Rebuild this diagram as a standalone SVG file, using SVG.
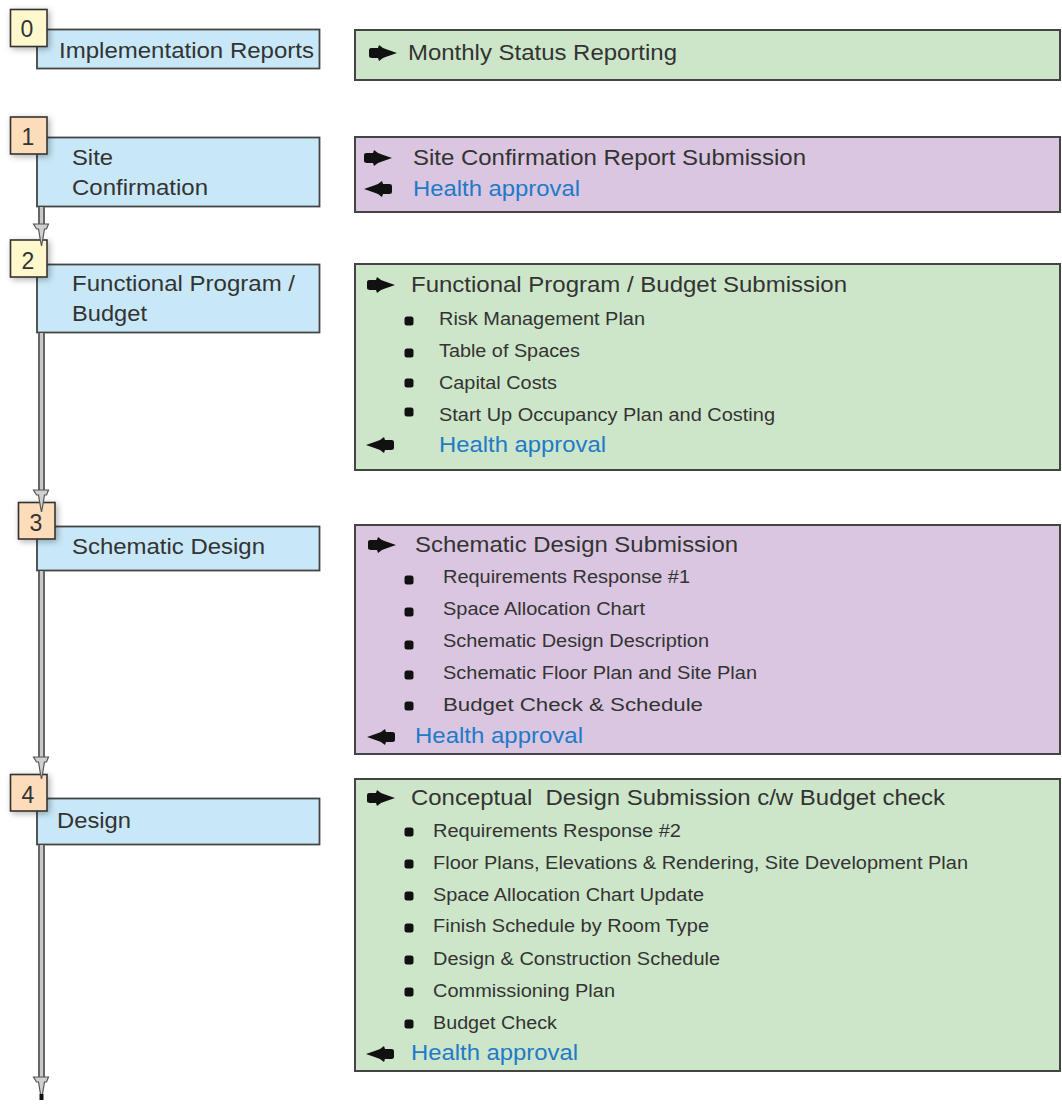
<svg xmlns="http://www.w3.org/2000/svg" width="1062" height="1105" viewBox="0 0 1062 1105">
<style>
text{font-family:"Liberation Sans",Arial,sans-serif;fill:#333}
.stage{fill:#c8e8f8;stroke:#444;stroke-width:1.8}
.badgeY{fill:#fff8cc;stroke:#333;stroke-width:1.6}
.badgeP{fill:#fddcba;stroke:#333;stroke-width:1.6}
.green{fill:#cde6c9;stroke:#444;stroke-width:2}
.purple{fill:#dac6e0;stroke:#444;stroke-width:2}
.lbl{font-size:22px}
.num{font-size:23px;text-anchor:middle}
.head{font-size:22px}
.item{font-size:17.5px}
.appr{font-size:22px;fill:#1f7ac8}
.lineO{stroke:#666;stroke-width:7;fill:none}
.lineI{stroke:#c8c8c8;stroke-width:3;fill:none}
.ahead{fill:#d0d0d0;stroke:#555;stroke-width:1.2}
</style>
<defs>
<filter id="sh" x="-50%" y="-50%" width="200%" height="200%">
<feDropShadow dx="2" dy="2" stdDeviation="3" flood-color="#000" flood-opacity="0.3"/>
</filter>
<path id="ar" d="M-14,-2.5 C-14,-5 -12,-5 -10,-5 L-5,-5 L-4,-8 L0,-5 L4,-3.5 L14,0 L4,3.5 L0,5 L-4,8 L-5,5 L-10,5 C-12,5 -14,5 -14,2.5 Z" fill="#111"/>
<path id="al" d="M14,-2.5 C14,-5 12,-5 10,-5 L5,-5 L4,-8 L0,-5 L-4,-3.5 L-14,0 L-4,3.5 L0,5 L4,8 L5,5 L10,5 C12,5 14,5 14,2.5 Z" fill="#111"/>
<rect id="bu" x="-4.5" y="-4.5" width="9" height="9" rx="2.5" fill="#111"/>
<path id="ah" d="M-8,0 L7,0 L5,5 L3,5 L1,17 L0,22 L-1,17 L-3,5 L-5,5 Z"/>
</defs>

<g id="stage0">
<rect class="stage" x="37" y="29.5" width="282.5" height="39"/>
<rect class="badgeY" x="10.5" y="9.5" width="36.5" height="37" filter="url(#sh)"/>
<text class="num" x="27" y="37">0</text>
<text class="lbl" x="59" y="58" textLength="255" lengthAdjust="spacingAndGlyphs">Implementation Reports</text>
</g>
<g id="stage1">
<rect class="stage" x="37" y="137.5" width="282.5" height="69"/>
<rect class="badgeP" x="10.5" y="117" width="36.5" height="37" filter="url(#sh)"/>
<text class="num" x="28" y="145">1</text>
<text class="lbl" x="72" y="165" textLength="41" lengthAdjust="spacingAndGlyphs">Site</text>
<text class="lbl" x="72" y="195" textLength="136" lengthAdjust="spacingAndGlyphs">Confirmation</text>
</g>
<g id="stage2">
<rect class="stage" x="37" y="264.5" width="282.5" height="68"/>
<rect class="badgeY" x="10.5" y="240" width="36.5" height="37" filter="url(#sh)"/>
<text class="num" x="28" y="269">2</text>
<text class="lbl" x="72" y="291" textLength="223" lengthAdjust="spacingAndGlyphs">Functional Program /</text>
<text class="lbl" x="72" y="321" textLength="75" lengthAdjust="spacingAndGlyphs">Budget</text>
</g>
<g id="stage3">
<rect class="stage" x="37" y="526.5" width="282.5" height="44"/>
<rect class="badgeP" x="18.5" y="502.5" width="36.5" height="36.5" filter="url(#sh)"/>
<text class="num" x="36" y="531">3</text>
<text class="lbl" x="72" y="554" textLength="193" lengthAdjust="spacingAndGlyphs">Schematic Design</text>
</g>
<g id="stage4">
<rect class="stage" x="37" y="798.5" width="282.5" height="46"/>
<rect class="badgeP" x="10.5" y="774.5" width="36.5" height="36.5" filter="url(#sh)"/>
<text class="num" x="28" y="803">4</text>
<text class="lbl" x="57" y="828" textLength="74" lengthAdjust="spacingAndGlyphs">Design</text>
</g>

<g id="deliv0">
<rect class="green" x="355" y="30" width="705" height="50"/>
<use href="#ar" x="383" y="53"/>
<text class="head" x="408" y="60" textLength="269" lengthAdjust="spacingAndGlyphs">Monthly Status Reporting</text>
</g>
<g id="deliv1">
<rect class="purple" x="355" y="137" width="705" height="75"/>
<use href="#ar" x="378" y="158"/>
<text class="head" x="413" y="165" textLength="393" lengthAdjust="spacingAndGlyphs">Site Confirmation Report Submission</text>
<use href="#al" x="378" y="189"/>
<text class="appr" x="413" y="196" textLength="167" lengthAdjust="spacingAndGlyphs">Health approval</text>
</g>
<g id="deliv2">
<rect class="green" x="355" y="264" width="705" height="206"/>
<use href="#ar" x="381" y="285"/>
<text class="head" x="411" y="292" textLength="436" lengthAdjust="spacingAndGlyphs">Functional Program / Budget Submission</text>
<use href="#bu" x="409" y="321"/>
<text class="item" x="439" y="325" textLength="206" lengthAdjust="spacingAndGlyphs">Risk Management Plan</text>
<use href="#bu" x="409" y="353"/>
<text class="item" x="439" y="357" textLength="141" lengthAdjust="spacingAndGlyphs">Table of Spaces</text>
<use href="#bu" x="409" y="383"/>
<text class="item" x="439" y="389" textLength="118" lengthAdjust="spacingAndGlyphs">Capital Costs</text>
<use href="#bu" x="409" y="412"/>
<text class="item" x="439" y="421" textLength="336" lengthAdjust="spacingAndGlyphs">Start Up Occupancy Plan and Costing</text>
<use href="#al" x="380" y="445"/>
<text class="appr" x="439" y="452" textLength="167" lengthAdjust="spacingAndGlyphs">Health approval</text>
</g>
<g id="deliv3">
<rect class="purple" x="355" y="525" width="705" height="229"/>
<use href="#ar" x="382" y="545"/>
<text class="head" x="415" y="552" textLength="323" lengthAdjust="spacingAndGlyphs">Schematic Design Submission</text>
<use href="#bu" x="409" y="580"/>
<text class="item" x="443" y="583" textLength="247" lengthAdjust="spacingAndGlyphs">Requirements Response #1</text>
<use href="#bu" x="409" y="612"/>
<text class="item" x="443" y="615" textLength="202" lengthAdjust="spacingAndGlyphs">Space Allocation Chart</text>
<use href="#bu" x="409" y="645"/>
<text class="item" x="443" y="647" textLength="266" lengthAdjust="spacingAndGlyphs">Schematic Design Description</text>
<use href="#bu" x="409" y="675"/>
<text class="item" x="443" y="679" textLength="314" lengthAdjust="spacingAndGlyphs">Schematic Floor Plan and Site Plan</text>
<use href="#bu" x="409" y="706"/>
<text class="item" x="443" y="711" textLength="260" lengthAdjust="spacingAndGlyphs">Budget Check &amp; Schedule</text>
<use href="#al" x="381" y="737"/>
<text class="appr" x="415" y="743" textLength="168" lengthAdjust="spacingAndGlyphs">Health approval</text>
</g>
<g id="deliv4">
<rect class="green" x="355" y="779" width="705" height="292"/>
<use href="#ar" x="381" y="798"/>
<text class="head" x="411" y="805" xml:space="preserve" textLength="534" lengthAdjust="spacingAndGlyphs">Conceptual  Design Submission c/w Budget check</text>
<use href="#bu" x="409" y="832"/>
<text class="item" x="433" y="837" textLength="248" lengthAdjust="spacingAndGlyphs">Requirements Response #2</text>
<use href="#bu" x="409" y="864"/>
<text class="item" x="433" y="869" textLength="535" lengthAdjust="spacingAndGlyphs">Floor Plans, Elevations &amp; Rendering, Site Development Plan</text>
<use href="#bu" x="409" y="896"/>
<text class="item" x="433" y="901" textLength="271" lengthAdjust="spacingAndGlyphs">Space Allocation Chart Update</text>
<use href="#bu" x="409" y="928"/>
<text class="item" x="433" y="932" textLength="276" lengthAdjust="spacingAndGlyphs">Finish Schedule by Room Type</text>
<use href="#bu" x="409" y="960"/>
<text class="item" x="433" y="965" textLength="287" lengthAdjust="spacingAndGlyphs">Design &amp; Construction Schedule</text>
<use href="#bu" x="409" y="992"/>
<text class="item" x="433" y="997" textLength="182" lengthAdjust="spacingAndGlyphs">Commissioning Plan</text>
<use href="#bu" x="409" y="1024"/>
<text class="item" x="433" y="1029" textLength="124" lengthAdjust="spacingAndGlyphs">Budget Check</text>
<use href="#al" x="380" y="1054"/>
<text class="appr" x="411" y="1060" textLength="167" lengthAdjust="spacingAndGlyphs">Health approval</text>
</g>

<g id="connectors">
<line class="lineO" x1="41.5" y1="207" x2="41.5" y2="227"/>
<line class="lineI" x1="41.5" y1="207" x2="41.5" y2="227"/>
<use href="#ah" class="ahead" x="41.5" y="224"/>
<line class="lineO" x1="41.5" y1="333" x2="41.5" y2="492"/>
<line class="lineI" x1="41.5" y1="333" x2="41.5" y2="492"/>
<use href="#ah" class="ahead" x="41.5" y="490"/>
<line class="lineO" x1="41.5" y1="571" x2="41.5" y2="759"/>
<line class="lineI" x1="41.5" y1="571" x2="41.5" y2="759"/>
<use href="#ah" class="ahead" x="41.5" y="757"/>
<line class="lineO" x1="41.5" y1="845" x2="41.5" y2="1079"/>
<line class="lineI" x1="41.5" y1="845" x2="41.5" y2="1079"/>
<use href="#ah" class="ahead" x="41.5" y="1077"/>
<rect x="39.5" y="1094" width="4" height="6" fill="#111"/>
</g>
</svg>
